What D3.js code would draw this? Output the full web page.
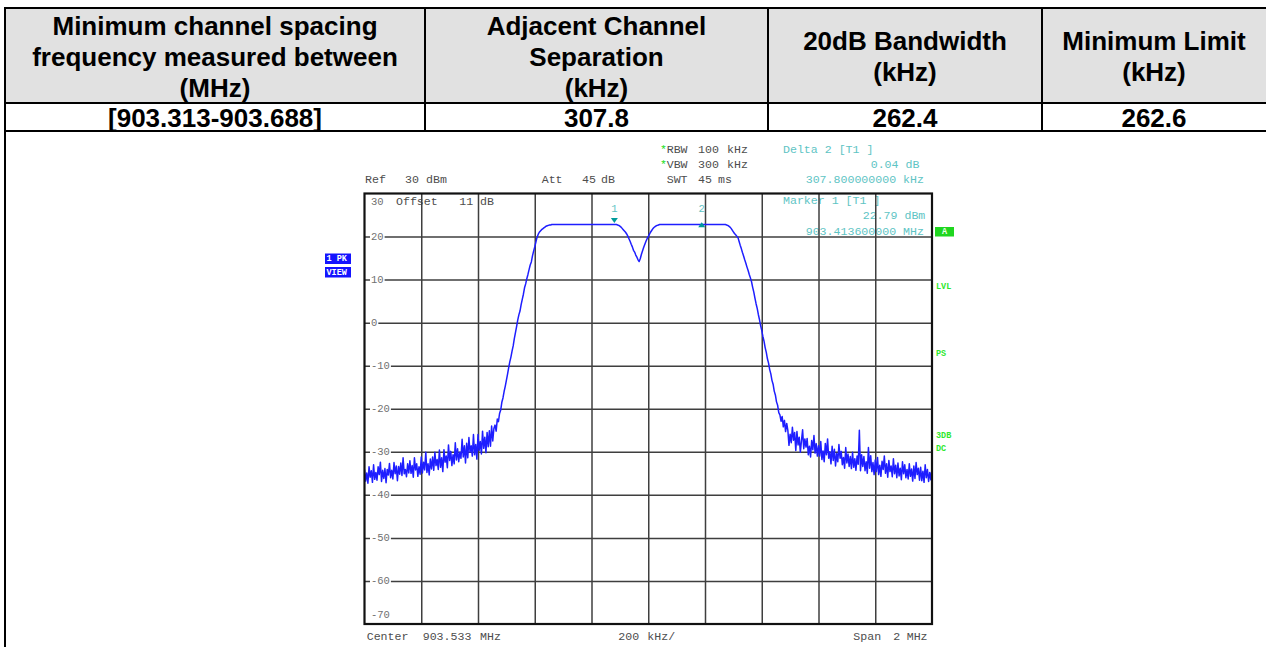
<!DOCTYPE html>
<html>
<head>
<meta charset="utf-8">
<script src="https://cdn.jsdelivr.net/npm/d3@7"></script>
<style>
  html, body { margin: 0; padding: 0; background: #fff; }
  svg { display: block; }
</style>
</head>
<body>
<svg id="chart" width="1266" height="647"></svg>
<script>
// ---- Summary table -------------------------------------------------------
const TABLE_HEADERS = [
  ["Minimum channel spacing", "frequency measured between", "(MHz)"],
  ["Adjacent Channel", "Separation", "(kHz)"],
  ["20dB Bandwidth", "(kHz)"],
  ["Minimum Limit", "(kHz)"]
];
const TABLE_VALUES = ["[903.313-903.688]", "307.8", "262.4", "262.6"];

// ---- Analyzer settings ---------------------------------------------------
const CENTER_MHZ = 903.533;
const SPAN_MHZ = 2;
const DIV_KHZ = 200;
const REF_LEVEL_DBM = 30;
const ATT_DB = 45;
const OFFSET_DB = 11;
const RBW_KHZ = 100;
const VBW_KHZ = 300;
const SWT_MS = 45;
const Y_TICKS = [30, 20, 10, 0, -10, -20, -30, -40, -50, -60, -70];

// ---- Markers -------------------------------------------------------------
const MARKER_IDS = [1, 2];
const MARKER_FREQ_MHZ = [903.4136, 903.7214];
const MARKER_LEVEL_DBM = [22.79, 22.83];
const DELTA_KHZ = 307.8;
const DELTA_DB = 0.04;

const SOFTKEYS_RIGHT = ["LVL", "PS", "3DB", "DC"];
const TRACE_TAGS = ["1 PK", "VIEW"];

// ---- Sweep trace, 501 points over the span (dBm) -------------------------
const TRACE_DBM = [
  -34.1, -36.8, -34.9, -37.3, -33.5, -35.9, -34.4, -37.1, -33.0, -36.4,
  -34.8, -36.6, -33.5, -35.3, -32.4, -36.9, -34.3, -36.2, -33.9, -37.2,
  -34.1, -35.4, -32.7, -36.0, -34.3, -36.3, -32.5, -35.1, -33.3, -36.7,
  -33.4, -35.2, -32.6, -35.5, -31.4, -35.1, -34.1, -35.8, -32.8, -34.9,
  -32.1, -35.0, -33.2, -35.9, -31.4, -34.2, -32.8, -35.7, -33.5, -35.2,
  -31.2, -34.9, -32.4, -34.2, -30.1, -34.8, -32.8, -35.4, -31.7, -34.0,
  -31.2, -34.3, -30.1, -33.2, -31.8, -34.1, -29.6, -33.6, -31.4, -34.6,
  -29.5, -32.4, -31.0, -33.7, -28.4, -32.0, -29.9, -33.2, -30.7, -32.8,
  -27.9, -31.9, -29.3, -32.3, -30.1, -31.5, -27.1, -31.2, -28.6, -32.6,
  -28.0, -31.4, -26.7, -30.1, -28.6, -31.0, -26.0, -30.7, -28.3, -31.7,
  -26.0, -29.7, -27.6, -30.5, -25.2, -29.2, -26.6, -30.2, -25.5, -28.8,
  -25.1, -28.7, -24.0, -27.5, -24.6,
  -23.8, -25.2, -22.4, -23.0, -21.1, -20.3, -18.5, -17.5, -16.0, -14.8,
  -13.4, -12.0, -10.5, -9.1, -8.0, -6.6, -5.4, -3.7, -2.3, -0.9,
  0.6, 1.8, 2.7, 4.2, 5.4, 6.6, 8.1, 9.0, 10.2, 11.2,
  12.3, 13.4, 14.1, 15.5, 16.6, 17.6, 18.7, 19.8, 20.5, 21.0,
  21.3, 21.6, 21.8, 22.0, 22.2, 22.4, 22.5, 22.6, 22.7, 22.7,
  22.8,
  22.8, 22.8, 22.8, 22.8, 22.8, 22.8, 22.8, 22.8, 22.8, 22.8,
  22.8, 22.8, 22.8, 22.8, 22.8, 22.8, 22.8, 22.8, 22.8, 22.8,
  22.8, 22.8, 22.8, 22.8, 22.8, 22.8, 22.8, 22.8, 22.8, 22.8,
  22.8, 22.8, 22.8, 22.8, 22.8, 22.8, 22.8, 22.8, 22.8, 22.8,
  22.8, 22.8, 22.8, 22.8, 22.8, 22.8, 22.8, 22.8, 22.8, 22.8,
  22.8, 22.8, 22.8, 22.8, 22.79, 22.8,
  22.8, 22.7, 22.6, 22.4, 22.2, 21.9, 21.6, 21.3, 21.0, 20.6,
  20.1, 19.5, 18.9, 18.2, 17.6, 16.8, 16.4, 15.7, 15.2, 14.6,
  14.2, 14.9, 15.9, 16.7, 17.5, 18.2, 18.9, 19.5, 20.0, 20.5,
  21.0, 21.4, 21.8, 22.1, 22.3, 22.5, 22.6, 22.7, 22.8,
  22.8, 22.8, 22.8, 22.8, 22.8, 22.8, 22.8, 22.8, 22.8, 22.8,
  22.8, 22.8, 22.8, 22.8, 22.8, 22.8, 22.8, 22.8, 22.8, 22.8,
  22.8, 22.8, 22.8, 22.8, 22.8, 22.8, 22.8, 22.8, 22.8, 22.8,
  22.8, 22.8, 22.8, 22.8, 22.8, 22.8, 22.83, 22.8, 22.8, 22.8,
  22.8, 22.8, 22.8, 22.8, 22.8, 22.8, 22.8, 22.8, 22.8, 22.8,
  22.8, 22.8, 22.8, 22.8, 22.8, 22.8, 22.8,
  22.8, 22.7, 22.6, 22.4, 22.2, 21.9, 21.5, 21.1, 20.7, 20.4,
  20.1, 19.8, 18.9, 18.0, 17.2, 16.3, 15.5, 14.6, 13.8, 12.9,
  12.1, 11.2, 10.4, 9.5, 8.2, 7.1, 5.7, 4.4, 3.3, 1.9,
  0.7, -0.7, -1.8, -3.2, -4.3, -5.8, -6.9, -8.4, -9.4, -10.9,
  -11.9, -13.4, -14.3, -15.9, -16.8, -18.4, -19.2, -20.9, -21.4, -22.9,
  -21.8, -24.2, -22.7, -25.3, -23.4,
  -25.0, -28.5, -25.9, -27.9, -24.3, -27.3, -25.5,
  -29.7, -25.3, -28.4, -26.6, -30.1, -27.4, -24.9, -29.3, -27.0, -28.9,
  -26.9, -30.7, -28.7, -31.2, -27.4, -29.5, -26.2, -30.3, -28.1, -31.0,
  -28.6, -31.0, -27.6, -31.8, -29.8, -32.3, -28.1, -30.7, -27.0, -31.5,
  -30.0, -32.8, -28.7, -32.0, -29.4, -33.3, -30.4, -32.3, -28.3, -31.5,
  -29.9, -33.0, -31.3, -33.8, -29.0, -32.6, -30.5, -33.4, -31.1, -33.9,
  -30.1, -33.6, -31.6, -34.3, -31.0, -32.9, -25.0, -34.4, -30.7, -33.4,
  -31.1, -34.4, -32.3, -35.0, -29.0, -33.8, -30.9, -34.6, -32.5, -35.3,
  -31.9, -34.6, -31.3, -35.3, -33.1, -35.7, -32.2, -34.1, -31.0, -35.0,
  -32.8, -35.9, -32.0, -34.6, -33.3, -35.8, -31.6, -35.1, -33.1, -36.0,
  -32.6, -35.6, -33.8, -36.5, -32.3, -35.1, -33.0, -36.0, -34.1, -36.3,
  -32.8, -35.7, -34.0, -36.8, -33.3, -36.2, -32.5, -35.3, -33.8, -36.6,
  -33.6, -36.7, -34.5, -37.1, -33.0, -36.0, -34.1, -36.9, -34.8, -36.5, -33.9
];

// ---- Drawing ---------------------------------------------------------------
const svg = d3.select("#chart");
const MONO = "'Liberation Mono', 'DejaVu Sans Mono', monospace";
const SANS = "'Liberation Sans', Arial, sans-serif";
const INK = "#4d4d4d";
const CYAN = "#5ec4c4";
const GREEN = "#22dd22";

// Table
const colEdges = [5, 425, 768, 1042, 1266];
const tableTop = 8, headBottom = 103, tableBottom = 131;
svg.append("rect").attr("x", colEdges[0]).attr("y", tableTop)
  .attr("width", colEdges[4] - colEdges[0]).attr("height", headBottom - tableTop)
  .attr("fill", "#e1e1e1");

const lineH = 31;
TABLE_HEADERS.forEach((lines, c) => {
  const cx = (colEdges[c] + colEdges[c + 1]) / 2;
  const mid = (tableTop + headBottom) / 2 + 1;
  const first = mid - (lines.length - 1) * lineH / 2;
  svg.append("g").selectAll("text").data(lines).join("text")
    .attr("x", cx).attr("y", (d, i) => first + i * lineH)
    .attr("text-anchor", "middle").attr("dominant-baseline", "central")
    .attr("font-family", SANS).attr("font-weight", "bold").attr("font-size", 26)
    .attr("fill", "#000").text(d => d);
});
svg.append("g").selectAll("text").data(TABLE_VALUES).join("text")
  .attr("x", (d, c) => (colEdges[c] + colEdges[c + 1]) / 2)
  .attr("y", (headBottom + tableBottom) / 2 + 1)
  .attr("text-anchor", "middle").attr("dominant-baseline", "central")
  .attr("font-family", SANS).attr("font-weight", "bold").attr("font-size", 26)
  .attr("fill", "#000").text(d => d);

const tbl = svg.append("g").attr("stroke", "#000").attr("stroke-width", 2);
[tableTop, headBottom, tableBottom].forEach(yy =>
  tbl.append("line").attr("x1", colEdges[0] - 1).attr("x2", 1266).attr("y1", yy).attr("y2", yy));
tbl.append("line").attr("x1", colEdges[0]).attr("x2", colEdges[0]).attr("y1", tableTop).attr("y2", 647);
colEdges.slice(1, 4).forEach(xx =>
  tbl.append("line").attr("x1", xx).attr("x2", xx).attr("y1", tableTop).attr("y2", tableBottom));

// Spectrum plot frame and scales
const plot = { left: 364.5, right: 932, top: 193.5, bottom: 624 };
const fStart = CENTER_MHZ - SPAN_MHZ / 2, fStop = CENTER_MHZ + SPAN_MHZ / 2;
const x = d3.scaleLinear().domain([fStart, fStop]).range([plot.left, plot.right]);
const y = d3.scaleLinear().domain([d3.min(Y_TICKS), d3.max(Y_TICKS)]).range([plot.bottom, plot.top]);
const freqOf = i => fStart + i * SPAN_MHZ / (TRACE_DBM.length - 1);

function mono(g, str, px, py, opts = {}) {
  return g.append("text").attr("x", px).attr("y", py)
    .attr("dominant-baseline", "central")
    .attr("text-anchor", opts.anchor || "start")
    .attr("font-family", MONO).attr("font-size", opts.size || 11.6)
    .attr("font-weight", opts.weight || "normal")
    .attr("fill", opts.fill || INK).text(str);
}

// Readouts above the grid
const readTop = svg.append("g");
mono(readTop, "*", 660, 149, { fill: GREEN });
mono(readTop, "RBW", 666.7, 149); mono(readTop, String(RBW_KHZ), 698, 149); mono(readTop, "kHz", 727, 149);
mono(readTop, "*", 660, 164, { fill: GREEN });
mono(readTop, "VBW", 666.7, 164); mono(readTop, String(VBW_KHZ), 698, 164); mono(readTop, "kHz", 727, 164);
mono(readTop, "SWT", 666.7, 179); mono(readTop, String(SWT_MS), 698, 179); mono(readTop, "ms", 718, 179);
mono(readTop, "Ref", 365, 179); mono(readTop, String(REF_LEVEL_DBM), 405, 179); mono(readTop, "dBm", 426, 179);
mono(readTop, "Att", 541.7, 179); mono(readTop, String(ATT_DB), 582, 179); mono(readTop, "dB", 601, 179);
mono(readTop, "Delta 2 [T1 ]", 783, 149, { fill: CYAN });
mono(readTop, DELTA_DB.toFixed(2) + " dB", 870.7, 164, { fill: CYAN });
mono(readTop, DELTA_KHZ.toFixed(9) + " kHz", 805.7, 179, { fill: CYAN });

// Readouts inside the grid (grid lines pass over them)
const inner = svg.append("g");
mono(inner, "Offset", 396, 201.7); mono(inner, String(OFFSET_DB), 459.3, 201.7); mono(inner, "dB", 480, 201.7);
mono(inner, "Marker 1 [T1 ]", 783, 200, { fill: CYAN });
mono(inner, MARKER_LEVEL_DBM[0].toFixed(2) + " dBm", 862.7, 215.5, { fill: CYAN });
mono(inner, MARKER_FREQ_MHZ[0].toFixed(9) + " MHz", 805.7, 231, { fill: CYAN });

// Grid through the axis generators
const vTicks = d3.range(1, 10).map(k => fStart + k * DIV_KHZ / 1000);
const hTicks = Y_TICKS.filter(v => v < d3.max(Y_TICKS) && v > d3.min(Y_TICKS));
svg.append("g").attr("transform", `translate(0,${plot.bottom})`)
  .call(d3.axisBottom(x).tickValues(vTicks).tickSize(-(plot.bottom - plot.top)).tickFormat(""))
  .call(g => g.select(".domain").remove())
  .call(g => g.selectAll("line").attr("stroke", "#3f3f3f").attr("stroke-width", 1.5));
svg.append("g").attr("transform", `translate(${plot.left},0)`)
  .call(d3.axisLeft(y).tickValues(hTicks).tickSize(-(plot.right - plot.left)).tickFormat(""))
  .call(g => g.select(".domain").remove())
  .call(g => g.selectAll("line").attr("stroke", "#3f3f3f").attr("stroke-width", 1.5));

// Level labels drawn on the left edge of the grid
const lab = svg.append("g");
Y_TICKS.forEach(v => {
  let py = y(v);
  if (v === d3.max(Y_TICKS)) py += 8.5;
  if (v === d3.min(Y_TICKS)) py -= 9;
  const t = mono(lab, String(v), 371, py, { size: 10.5, fill: "#707070" });
  const bb = t.node().getBBox();
  lab.insert("rect", "text").attr("x", bb.x - 1).attr("y", bb.y + 2)
    .attr("width", bb.width + 2).attr("height", bb.height - 4).attr("fill", "#fff");
});

// Trace
svg.append("clipPath").attr("id", "plotclip").append("rect")
  .attr("x", plot.left).attr("y", plot.top)
  .attr("width", plot.right - plot.left).attr("height", plot.bottom - plot.top);
const line = d3.line().x((d, i) => x(freqOf(i))).y(d => y(d));
svg.append("path").datum(TRACE_DBM)
  .attr("clip-path", "url(#plotclip)")
  .attr("d", line).attr("fill", "none")
  .attr("stroke", "#1e1eff").attr("stroke-width", 1.5).attr("stroke-linejoin", "round");

// Frame
svg.append("rect").attr("x", plot.left).attr("y", plot.top)
  .attr("width", plot.right - plot.left).attr("height", plot.bottom - plot.top)
  .attr("fill", "none").attr("stroke", "#111").attr("stroke-width", 2.2);

// Markers
const mk = svg.append("g");
MARKER_IDS.forEach((id, k) => {
  const mx = x(MARKER_FREQ_MHZ[k]);
  const my = y(MARKER_LEVEL_DBM[k]);
  const path = id === 1
    ? `M${mx - 3.5},${my - 6.5} L${mx + 3.5},${my - 6.5} L${mx},${my - 1.5} Z`
    : `M${mx - 3.5},${my + 3} L${mx + 3.5},${my + 3} L${mx},${my - 2} Z`;
  mk.append("path").attr("d", path).attr("fill", "#009b9b");
  mono(mk, String(id), mx, 209, { anchor: "middle", size: 10.5, fill: CYAN });
});

// Trace tags on the left
TRACE_TAGS.forEach((t, k) => {
  const ty = 253.5 + k * 13.5;
  svg.append("rect").attr("x", 325).attr("y", ty).attr("width", 26).attr("height", 10.5).attr("fill", "#1414ff");
  mono(svg, t, 326.5, ty + 5.5, { size: 8.5, weight: "bold", fill: "#fff" });
});

// Side annotations on the right
svg.append("rect").attr("x", 935).attr("y", 227).attr("width", 19).attr("height", 9.5).attr("fill", "#1fd61f");
mono(svg, "A", 944.5, 232, { anchor: "middle", size: 8.5, weight: "bold", fill: "#eaffea" });
const sideY = [286.7, 354.3, 435.7, 449.3];
SOFTKEYS_RIGHT.forEach((t, k) => mono(svg, t, 936, sideY[k], { size: 8.5, weight: "bold", fill: "#2ee82e" }));

// Footer
const foot = svg.append("g");
mono(foot, "Center", 366.7, 636); mono(foot, CENTER_MHZ.toFixed(3), 422.7, 636); mono(foot, "MHz", 480, 636);
mono(foot, String(DIV_KHZ), 618.3, 636); mono(foot, "kHz/", 647.3, 636);
mono(foot, "Span", 853.3, 636); mono(foot, String(SPAN_MHZ), 893.3, 636); mono(foot, "MHz", 906.7, 636);
</script>
</body>
</html>
